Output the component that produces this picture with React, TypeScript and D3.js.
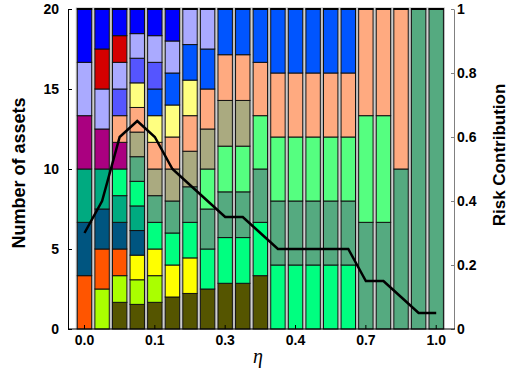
import React, { useEffect, useRef } from 'react';
import * as d3 from 'd3';

// one colour per asset (ids 1..18)
const assetColors = [
  '#555500', '#aaff00', '#ffff00', '#ff5500', '#005580', '#00aa80',
  '#00ff80', '#55aa80', '#55ff80', '#aaaa80', '#aa0080', '#ffaa80',
  '#ffff80', '#0055ff', '#5555ff', '#aaaaff', '#d40000', '#0000ff',
];

// assets held at each eta step, bottom to top
const holdings = [
  [4, 5, 6, 11, 16, 18],
  [2, 4, 5, 6, 11, 16, 17, 18],
  [1, 2, 4, 5, 6, 7, 11, 12, 15, 16, 17, 18],
  [1, 2, 3, 5, 6, 7, 8, 10, 12, 13, 15, 16, 18],
  [1, 2, 3, 7, 8, 10, 12, 13, 14, 15, 16, 18],
  [1, 3, 7, 8, 10, 12, 13, 14, 16, 18],
  [1, 3, 7, 8, 10, 12, 13, 14, 16],
  [1, 7, 8, 9, 10, 12, 14, 16],
  [1, 7, 8, 9, 10, 12, 14],
  [1, 7, 8, 9, 10, 12, 14],
  [1, 7, 8, 9, 12, 14],
  [7, 8, 9, 12, 14],
  [7, 8, 9, 12, 14],
  [7, 8, 9, 12, 14],
  [7, 8, 9, 12, 14],
  [7, 8, 9, 12, 14],
  [8, 9, 12],
  [8, 9, 12],
  [8, 12],
  [8],
  [8],
];

const riskContribution = [
  0.3, 0.4, 0.6, 0.65, 0.6, 0.5, 0.45, 0.4, 0.35, 0.35, 0.3,
  0.25, 0.25, 0.25, 0.25, 0.25, 0.15, 0.15, 0.1, 0.05, 0.05,
];

const xTickIndex = [0, 4, 8, 12, 16, 20];
const xTickLabels = ['0.0', '0.1', '0.3', '0.4', '0.7', '1.0'];
const leftTicks = [0, 5, 10, 15, 20];
const rightTicks = [0, 0.2, 0.4, 0.6, 0.8, 1];

const W = 511, H = 372;
const FONT = 'Liberation Sans, Arial, sans-serif';

const App: React.FC = () => {
  const svgRef = useRef<SVGSVGElement>(null);

  useEffect(() => {
    if (!svgRef.current) return;
    const svg = d3.select(svgRef.current);
    svg.selectAll('*').remove();

    const left = 68, right = 454, top = 9, bottom = 329;
    const total = 20;

    const x = d3.scaleBand<number>()
      .domain(d3.range(holdings.length))
      .range([75.7, 445])
      .paddingInner(0.18)
      .paddingOuter(0.09);
    const yL = d3.scaleLinear().domain([0, total]).range([bottom, top]);
    const yR = d3.scaleLinear().domain([0, 1]).range([bottom, top]);

    // bars
    const bars = svg.append('g');
    holdings.forEach((assets, i) => {
      const n = assets.length;
      const bx = x(i)!;
      const g = bars.append('g');
      g.append('rect')
        .attr('x', bx - 1).attr('y', yL(total) - 1)
        .attr('width', x.bandwidth() + 2).attr('height', yL(0) - yL(total) + 1)
        .attr('fill', 'none').attr('stroke', '#b8b8b8').attr('stroke-width', 1);
      g.selectAll('rect.seg')
        .data(assets)
        .join('rect')
        .attr('class', 'seg')
        .attr('x', bx)
        .attr('y', (_, j) => yL(total * (j + 1) / n))
        .attr('width', x.bandwidth())
        .attr('height', (_, j) => yL(total * j / n) - yL(total * (j + 1) / n))
        .attr('fill', a => assetColors[a - 1])
        .attr('stroke', '#111')
        .attr('stroke-width', 1);
      g.append('line')
        .attr('x1', bx - 0.5).attr('x2', bx + x.bandwidth() + 0.5)
        .attr('y1', yL(total)).attr('y2', yL(total))
        .attr('stroke', '#000').attr('stroke-width', 2);
    });

    // risk contribution line
    const line = d3.line<number>()
      .x((_, i) => x(i)! + x.bandwidth() / 2)
      .y(d => yR(d));
    svg.append('path')
      .datum(riskContribution)
      .attr('d', line)
      .attr('fill', 'none')
      .attr('stroke', '#000')
      .attr('stroke-width', 2.5)
      .attr('stroke-linejoin', 'miter');

    // left axis
    const axL = svg.append('g')
      .attr('transform', `translate(${left},0)`)
      .call(d3.axisLeft(yL).tickValues(leftTicks).tickSize(-4).tickSizeOuter(0).tickPadding(9));
    axL.select('.domain').attr('stroke', '#000');

    // right axis
    const axR = svg.append('g')
      .attr('transform', `translate(${right},0)`)
      .call(d3.axisRight(yR).tickValues(rightTicks).tickSize(-3).tickSizeOuter(0).tickPadding(3)
        .tickFormat(d => String(d)));
    axR.select('.domain').attr('stroke', '#808080');
    axR.selectAll('.tick line').attr('stroke', '#808080');

    // bottom axis
    const axB = svg.append('g')
      .attr('transform', `translate(0,${bottom})`)
      .call(d3.axisBottom(x).tickValues(xTickIndex).tickSize(-4).tickPadding(6)
        .tickFormat((_, i) => xTickLabels[i]));
    axB.select('.domain').remove();
    axB.append('line')
      .attr('x1', left).attr('x2', right + 1)
      .attr('stroke', '#000').attr('stroke-width', 1);

    svg.selectAll('.tick text')
      .attr('font-family', FONT)
      .attr('font-size', 14)
      .attr('font-weight', 'bold')
      .attr('fill', '#000');

    // titles
    svg.append('text')
      .attr('transform', 'translate(25,173) rotate(-90)')
      .attr('text-anchor', 'middle')
      .attr('font-family', FONT).attr('font-size', 18).attr('font-weight', 'bold')
      .text('Number of assets');
    svg.append('text')
      .attr('transform', 'translate(505,155) rotate(-90)')
      .attr('text-anchor', 'middle')
      .attr('font-family', FONT).attr('font-size', 17).attr('font-weight', 'bold')
      .text('Risk Contribution');
    svg.append('text')
      .attr('x', 258).attr('y', 363)
      .attr('text-anchor', 'middle')
      .attr('font-family', 'Liberation Serif, DejaVu Serif, serif')
      .attr('font-style', 'italic')
      .attr('font-size', 20)
      .text('η');
  }, []);

  return (
    <svg
      ref={svgRef}
      width={W}
      height={H}
      style={{ position: 'absolute', left: 0, top: 0, background: '#fff' }}
    />
  );
};

export default App;
